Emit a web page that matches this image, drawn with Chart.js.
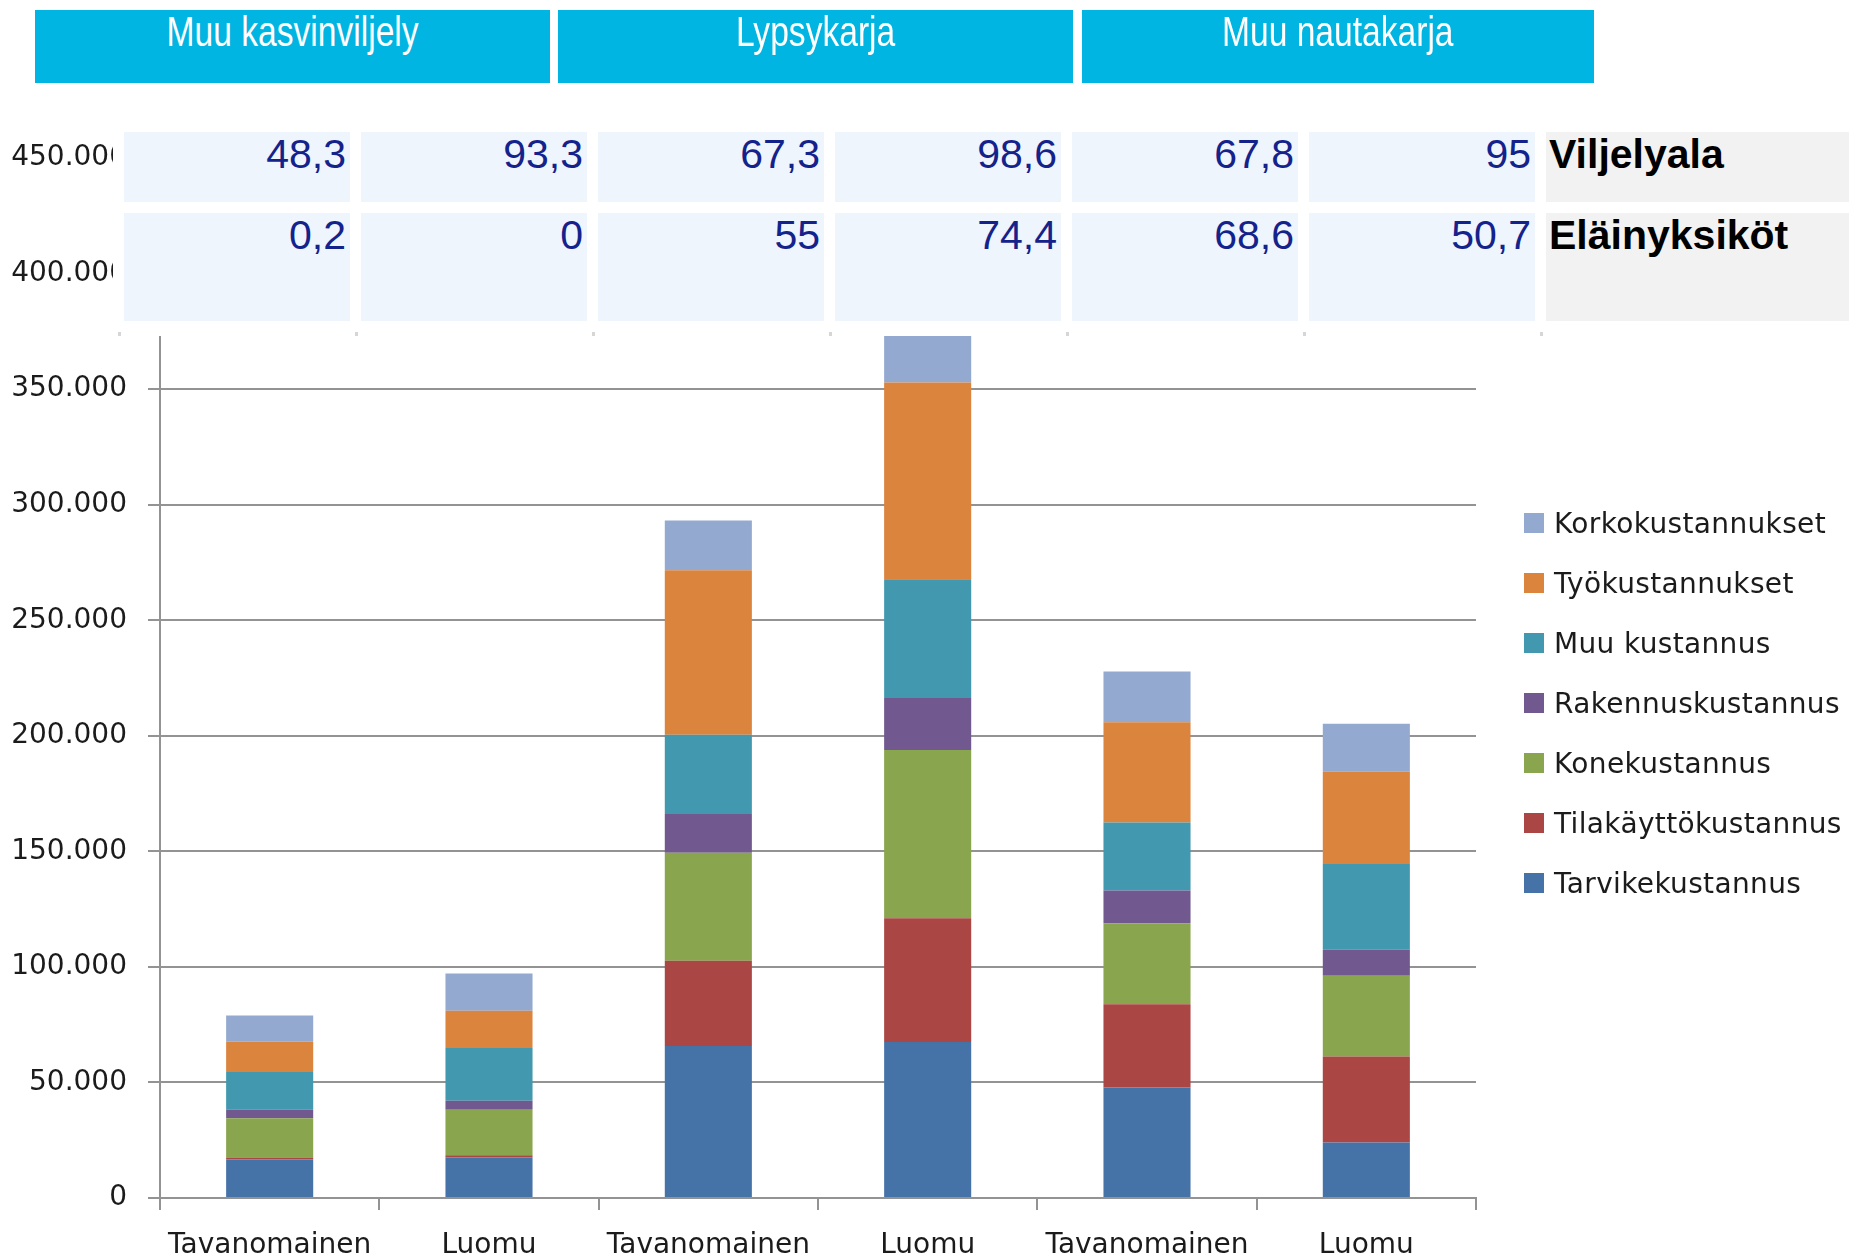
<!DOCTYPE html>
<html>
<head>
<meta charset="utf-8">
<script src="https://cdn.jsdelivr.net/npm/chart.js@4.4.1/dist/chart.umd.min.js"></script>
<style>
html,body{margin:0;padding:0;background:#fff;width:1849px;height:1258px;overflow:hidden;}
#wrap{position:relative;width:1849px;height:1258px;}
#chart{position:absolute;left:0;top:0;}
.abs{position:absolute;box-sizing:border-box;}
.hdr{background:#00B5E2;color:#fff;text-align:center;overflow:hidden;}
.hdr span{display:inline-block;font-family:'Liberation Sans',Arial,sans-serif;font-size:42px;line-height:42px;transform:scaleX(0.8);transform-origin:center top;margin-top:1px;white-space:nowrap;}
.cell{background:#EEF5FC;font-family:'Liberation Sans',Arial,sans-serif;font-size:41px;line-height:41px;color:#14228c;text-align:right;padding:2px 4px 0 0;white-space:nowrap;}
.lab{background:#F2F2F2;font-family:'Liberation Sans',Arial,sans-serif;font-weight:bold;font-size:41px;line-height:41px;color:#000;padding:2px 0 0 3px;white-space:nowrap;}
.legsq{width:20px;height:20px;}
.legtx{font-family:'DejaVu Sans',sans-serif;font-size:28px;line-height:28px;letter-spacing:0.35px;color:#1b1b1b;white-space:nowrap;}
.mark{width:3px;height:4px;background:#d6d6d6;}
</style>
</head>
<body>
<div id="wrap">
<canvas id="chart" width="1849" height="1258"></canvas>
</div>
<script>
// ---- data ----
const groups = ['Muu kasvinviljely', 'Lypsykarja', 'Muu nautakarja'];
const categories = ['Tavanomainen', 'Luomu', 'Tavanomainen', 'Luomu', 'Tavanomainen', 'Luomu'];
const rowLabels = ['Viljelyala', 'Eläinyksiköt'];
const viljelyala = [48.3, 93.3, 67.3, 98.6, 67.8, 95];
const elainyksikot = [0.2, 0, 55, 74.4, 68.6, 50.7];

const seriesNames = ['Tarvikekustannus', 'Tilakäyttökustannus', 'Konekustannus', 'Rakennuskustannus', 'Muu kustannus', 'Työkustannukset', 'Korkokustannukset'];
const tarvike  = [16700, 17500, 65800, 67500, 47800, 24000];
const tila     = [800, 1000, 36900, 53500, 36000, 37200];
const kone     = [17000, 19700, 46700, 72800, 35100, 35000];
const rakennus = [3700, 3900, 16700, 22600, 14200, 11200];
const muu      = [16300, 22800, 34300, 51300, 29400, 37100];
const tyo      = [13200, 16100, 71200, 85200, 43400, 39900];
const korko    = [11300, 16100, 21600, 22100, 21900, 20800];
const seriesColors = ['#4572A7', '#AA4643', '#89A54E', '#71588F', '#4198AF', '#DB843D', '#93A9CF'];

const yMax = 450000;
const yStep = 50000;

// ---- chart ----
const seriesData = [tarvike, tila, kone, rakennus, muu, tyo, korko];
const datasets = seriesData.map((d, i) => ({
  label: seriesNames[i],
  data: d,
  backgroundColor: seriesColors[i],
  borderWidth: 0,
  categoryPercentage: 1.0,
  barPercentage: 0.397
}));

const axisColor = '#939393';
const tickFont = {family: 'DejaVu Sans', size: 28};
const fmt = v => v === 0 ? '0' : String(v).replace(/\B(?=(\d{3})+(?!\d))/g, '.');

const chart = new Chart(document.getElementById('chart').getContext('2d'), {
  type: 'bar',
  data: {labels: categories, datasets: datasets},
  options: {
    responsive: false,
    animation: false,
    devicePixelRatio: 1,
    layout: {padding: {left: 0, top: 140, right: 373, bottom: 0}},
    plugins: {legend: {display: false}, tooltip: {enabled: false}},
    scales: {
      x: {
        stacked: true,
        grid: {offset: true, drawOnChartArea: false, drawTicks: true, tickLength: 12, color: axisColor, lineWidth: 2},
        border: {color: axisColor, width: 2},
        ticks: {font: tickFont, color: '#1b1b1b', padding: 19, maxRotation: 0, autoSkip: false}
      },
      y: {
        stacked: true,
        min: 0, max: yMax,
        grid: {color: axisColor, lineWidth: 2, tickLength: 12, drawTicks: true},
        border: {color: axisColor, width: 2},
        ticks: {stepSize: yStep, font: tickFont, color: '#1b1b1b', padding: 21, callback: v => fmt(v)}
      }
    }
  }
});

// fit chart area to the target plot rectangle
const target = {left: 160, top: 158, right: 1476, bottom: 1198};
for (let k = 0; k < 2; k++) {
  const ca = chart.chartArea;
  const p = chart.options.layout.padding;
  p.left += target.left - ca.left;
  p.top += target.top - ca.top;
  p.right += ca.right - target.right;
  p.bottom += ca.bottom - target.bottom;
  chart.update();
}

// ---- overlay table ----
const wrap = document.getElementById('wrap');
function add(cls, css, html) {
  const d = document.createElement('div');
  d.className = 'abs ' + cls;
  Object.assign(d.style, css);
  if (html !== undefined) d.innerHTML = html;
  wrap.appendChild(d);
  return d;
}
// white cover above the plot
add('', {left: '113px', top: '95px', width: '1736px', height: '241px', background: '#fff'});
// group header boxes
const hdrLeft = [35, 558, 1082], hdrW = [515, 515, 512];
groups.forEach((g, i) => add('hdr', {left: hdrLeft[i] + 'px', top: '10px', width: hdrW[i] + 'px', height: '73px'}, '<span>' + g + '</span>'));
// value cells
const fmtDec = v => String(v).replace('.', ',');
const rows = [viljelyala, elainyksikot];
const rowTop = [132, 213], rowH = [70, 108];
rows.forEach((r, ri) => {
  r.forEach((v, ci) => add('cell', {left: (124 + ci * 237) + 'px', top: rowTop[ri] + 'px', width: '226px', height: rowH[ri] + 'px'}, fmtDec(v)));
  add('lab', {left: '1546px', top: rowTop[ri] + 'px', width: '303px', height: rowH[ri] + 'px'}, rowLabels[ri]);
});
[118, 355, 592, 829, 1066, 1303, 1540].forEach(x => add('mark', {left: x + 'px', top: '332px'}));

// ---- legend (reversed order) ----
for (let j = 0; j < seriesNames.length; j++) {
  const i = seriesNames.length - 1 - j;
  const cy = 523 + j * 60;
  add('legsq', {left: '1524px', top: (cy - 10) + 'px', background: seriesColors[i]});
  add('legtx', {left: '1554px', top: (cy - 13.5) + 'px'}, seriesNames[i]);
}
</script>
</body>
</html>
